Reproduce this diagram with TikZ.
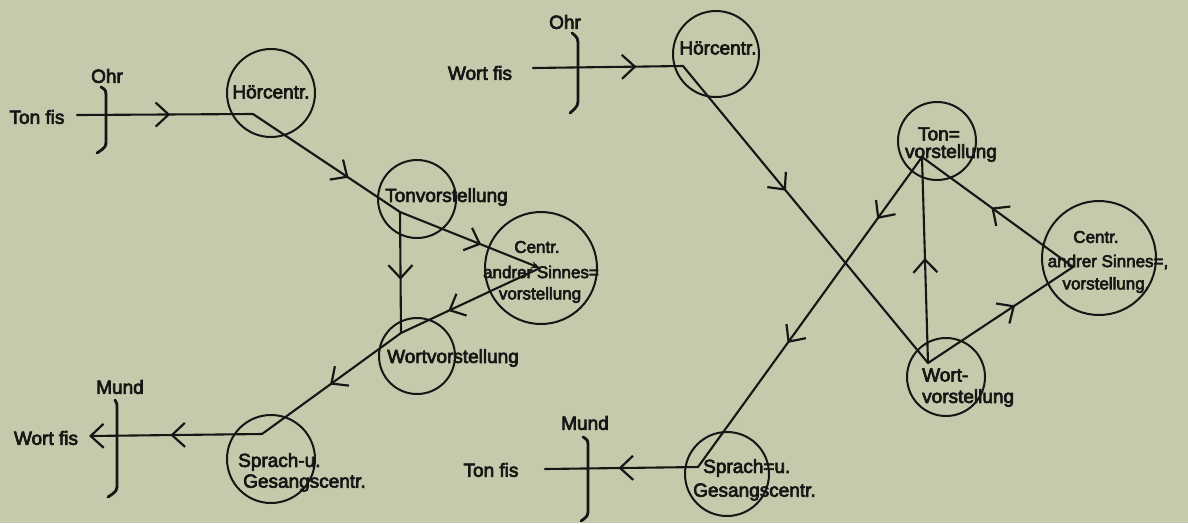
\documentclass[tikz,border=0pt]{standalone}
\usepackage{fontspec}
\setmainfont{Liberation Sans}[FakeBold=3.5]
\usetikzlibrary{arrows.meta,decorations.markings}
\definecolor{bg}{RGB}{199,201,173}
\definecolor{ink}{RGB}{22,22,20}
\tikzset{
  >={Straight Barb[length=13pt,width=24pt,line width=2.2pt]},
  ln/.style={draw=ink, line width=2.1pt, line cap=round, line join=round},
  ring/.style={circle, draw=ink, line width=2pt, inner sep=0pt, minimum size=#1},
  brk/.style={draw=ink, line width=2.8pt, line cap=round},
  lbl/.style={inner sep=0pt, text=ink, font=\fontsize{19}{21}\selectfont},
  slbl/.style={inner sep=0pt, text=ink, font=\fontsize{17}{19}\selectfont},
  marr/.style={postaction={decorate}, decoration={markings, mark=at position #1 with {\arrow{>}}}},
  marrtwo/.style 2 args={postaction={decorate}, decoration={markings, mark=at position #1 with {\arrow{>}}, mark=at position #2 with {\arrow{>}}}},
}
\begin{document}
\begin{tikzpicture}[x=1pt,y=-1pt]
\useasboundingbox (0,0) rectangle (1188,523);
\fill[bg] (0,0) rectangle (1188,523);

% ---------------- left diagram ----------------
\node[lbl] (LTon) at (37,117) {Ton fis};
\node[lbl] (LOhr) at (107,76) {Ohr};
\draw[brk] (101,87) .. controls (106,90) .. (106,99) -- (106,140) .. controls (106,147) .. (97,153);
\node[ring=88pt] (LHc) at (271,93) {};
\node[lbl] (LHt) at (271,92) {Hörcentr.};
\node[ring=78pt] (LTc) at (417,199) {};
\node[lbl,anchor=west] (LTt) at (385,197) {Tonvorstellung};
\node[ring=112pt] (LCc) at (541,268) {};
\node[slbl] (LCt1) at (537,247) {Centr.};
\node[slbl] (LCt2) at (541,272) {andrer Sinnes=};
\node[slbl] (LCt3) at (540,295) {vorstellung};
\node[ring=76pt] (LWc) at (417,356) {};
\node[lbl,anchor=west] (LWt) at (387,358) {Wortvorstellung};
\node[ring=88pt] (LSc) at (271,459) {};
\node[lbl,anchor=west] (LSt1) at (238,462) {Sprach-u.};
\node[lbl,anchor=west] (LSt2) at (243,483) {Gesangscentr.};
\node[lbl] (LMund) at (120,387) {Mund};
\draw[brk] (115,400) .. controls (117,403) .. (117,410) -- (117,483) .. controls (117,491) .. (108,497);
\node[lbl] (LWort) at (46,438) {Wort fis};

\coordinate (Ls) at (77,115);
\coordinate (LH) at (253,114);
\coordinate (LT) at (400,212);
\coordinate (LC) at (540,268);
\coordinate (LW) at (401,333);
\coordinate (LS) at (262,434);
\coordinate (Le) at (89,436);

\draw[ln, marr=0.53] (Ls) -- (LH);
\draw[ln, marr=0.65] (LH) -- (LT);
\draw[ln, marr=0.58, -{Stealth[length=9pt,width=7pt]}] (LT) -- (LC);
\draw[ln, marr=0.56] (LT) -- (LW);
\draw[ln, marr=0.66] (LC) -- (LW);
\draw[ln, marr=0.51] (LW) -- (LS);
\draw[ln, marr=0.53, ->] (LS) -- (Le);

% ---------------- right diagram ----------------
\node[lbl] (ROhr) at (565,22) {Ohr};
\node[lbl] (RWort) at (480,73) {Wort fis};
\draw[brk] (572,33) .. controls (578,38) .. (578,47) -- (578,97) .. controls (578,106) .. (570,113);
\node[ring=86pt] (RHc) at (716,54) {};
\node[lbl] (RHt) at (718,48) {Hörcentr.};
\node[ring=78pt] (RTc) at (937,141) {};
\node[lbl] (RTt1) at (939,134) {Ton=};
\node[lbl] (RTt2) at (951,153) {vorstellung};
\node[ring=114pt] (RCc) at (1099,258) {};
\node[slbl] (RCt1) at (1096,237) {Centr.};
\node[slbl] (RCt2) at (1108,262) {andrer Sinnes=,};
\node[slbl] (RCt3) at (1106,285) {vorstellung.};
\node[ring=78pt] (RWc) at (946,377) {};
\node[lbl,anchor=west] (RWt1) at (922,375) {Wort-};
\node[lbl,anchor=west] (RWt2) at (922,398) {vorstellung};
\node[ring=84pt] (RSc) at (727,474) {};
\node[lbl,anchor=west] (RSt1) at (703,468) {Sprach=u.};
\node[lbl,anchor=west] (RSt2) at (693,492) {Gesangscentr.};
\node[lbl] (RMund) at (585,423) {Mund};
\draw[brk] (583,437) .. controls (588,440) .. (588,448) -- (588,508) .. controls (588,516) .. (581,521);
\node[lbl] (RTon) at (491,470) {Ton fis};

\coordinate (Rs) at (533,68);
\coordinate (RH) at (683,66);
\coordinate (RT) at (922,157);
\coordinate (RW) at (928,363);
\coordinate (RC) at (1073,267);
\coordinate (RS) at (698,467);
\coordinate (Re) at (545,469);

\draw[ln, marr=0.69] (Rs) -- (RH);
\draw[ln, marr=0.42] (RH) -- (RW);
\draw[ln, marrtwo={0.2}{0.6}] (RT) -- (RS);
\draw[ln, marr=0.51] (RW) -- (RT);
\draw[ln, marr=0.54] (RC) -- (RT);
\draw[ln, marr=0.6] (RW) -- (RC);
\draw[ln, marr=0.52] (RS) -- (Re);
\end{tikzpicture}
\end{document}
